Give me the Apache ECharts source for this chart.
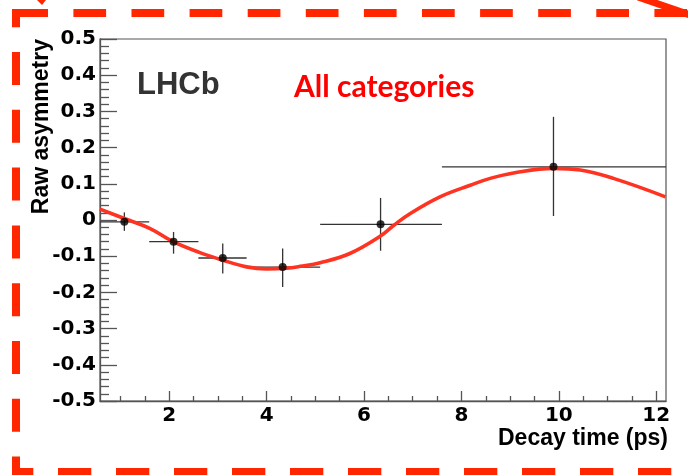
<!DOCTYPE html>
<html>
<head>
<meta charset="utf-8">
<script src="https://cdn.jsdelivr.net/npm/echarts@6/dist/echarts.min.js"></script>
<style>html,body{margin:0;padding:0;background:#fff;}#c{width:688px;height:475px;}</style>
</head>
<body>
<div id="c"></div>
<script>
// ---- data ----
const ptT   = [1.08, 2.09, 3.10, 4.33, 6.34, 9.89];
const ptA   = [-0.005, -0.060, -0.105, -0.130, -0.012, 0.147];
const binLo = [0.58, 1.59, 2.60, 3.59, 5.10, 7.60];
const binHi = [1.59, 2.60, 3.59, 5.10, 7.60, 12.2];
const errLo = [-0.030, -0.093, -0.148, -0.185, -0.085, 0.011];
const errHi = [0.021, -0.033, -0.065, -0.079, 0.061, 0.285];
const fitT  = [0.58, 1.08, 1.60, 2.08, 2.63, 3.10, 3.59, 4.00, 4.41, 4.69, 5.10, 5.71, 6.33, 6.60, 6.95, 7.56, 8.18, 8.59, 9.07, 9.89, 10.44, 11.12, 12.19];
const fitA  = [0.030, 0.004, -0.023, -0.060, -0.090, -0.111, -0.1295, -0.135, -0.133, -0.128, -0.118, -0.0925, -0.045, -0.016, 0.018, 0.064, 0.096, 0.115, 0.130, 0.1425, 0.138, 0.115, 0.064];
const xMajor = [2, 4, 6, 8, 10, 12];
const xMinor = [1, 1.5, 2.5, 3, 3.5, 4.5, 5, 5.5, 6.5, 7, 7.5, 8.5, 9, 9.5, 10.5, 11, 11.5];
const xTitle = 'Decay time (ps)';
const yTitle = 'Raw asymmetry';
const expLabel = 'LHCb';
const catLabel = 'All categories';

const chart = echarts.init(document.getElementById('c'), null, {renderer: 'canvas'});
const axisCol = '#555';
const tickFont = {fontFamily: 'DejaVu Sans', fontWeight: 'bold', fontSize: 20, color: '#000'};
const dashCol = '#ff2600';

const errData = ptT.map((t, i) => [t, ptA[i], binLo[i], binHi[i], errLo[i], errHi[i]]);

const option = {
  animation: false,
  backgroundColor: '#fff',
  grid: {left: 100, top: 39, right: 22, bottom: 74, show: true, borderColor: axisCol, borderWidth: 1.2, backgroundColor: 'transparent'},
  xAxis: [{
    type: 'value', min: 0.58, max: 12.2,
    axisLine: {show: true, onZero: false, lineStyle: {color: axisCol, width: 1.3}},
    axisTick: {show: true, inside: true, length: 10, customValues: xMajor, lineStyle: {color: axisCol, width: 1.3}},
    axisLabel: {show: true, customValues: xMajor, margin: 5, ...tickFont},
    splitLine: {show: false}
  }, {
    type: 'value', min: 0.58, max: 12.2, position: 'bottom',
    axisLine: {show: false, onZero: false},
    axisTick: {show: true, inside: true, length: 5, customValues: xMinor, lineStyle: {color: axisCol, width: 1.3}},
    axisLabel: {show: false},
    splitLine: {show: false}
  }],
  yAxis: {
    type: 'value', min: -0.5, max: 0.5, interval: 0.1,
    axisLine: {show: true, onZero: false, lineStyle: {color: axisCol, width: 1.3}},
    axisTick: {show: true, inside: true, length: 17, lineStyle: {color: axisCol, width: 1.3}},
    minorTick: {show: true, splitNumber: 5, length: 9, lineStyle: {color: axisCol, width: 1.3}},
    axisLabel: {margin: 4, ...tickFont, formatter: v => { const r = Math.round(v * 10) / 10; return r === 0 ? '0' : r.toFixed(1); }},
    splitLine: {show: false}
  },
  series: [{
    type: 'custom', xAxisIndex: 0, z: 2, clip: true,
    data: errData,
    renderItem: (params, api) => {
      const c = api.coord([api.value(0), api.value(1)]);
      const l = api.coord([api.value(2), api.value(1)]);
      const r = api.coord([api.value(3), api.value(1)]);
      const lo = api.coord([api.value(0), api.value(4)]);
      const hi = api.coord([api.value(0), api.value(5)]);
      const st = {stroke: '#333', lineWidth: 1.3};
      return {type: 'group', children: [
        {type: 'line', shape: {x1: l[0], y1: c[1], x2: r[0], y2: c[1]}, style: st},
        {type: 'line', shape: {x1: c[0], y1: lo[1], x2: c[0], y2: hi[1]}, style: st}
      ]};
    }
  }, {
    type: 'line', xAxisIndex: 0, z: 3, smooth: 0.4, symbol: 'none',
    data: fitT.map((t, i) => [t, fitA[i]]),
    lineStyle: {color: '#ff3322', width: 3.6}
  }, {
    type: 'scatter', xAxisIndex: 0, z: 4, symbol: 'circle', symbolSize: 8,
    data: ptT.map((t, i) => [t, ptA[i]]),
    itemStyle: {color: '#000'}
  }],
  graphic: [
    {type: 'text', x: 137, y: 85, z: 10, style: {text: expLabel, font: 'bold 31px "Liberation Sans"', fill: '#333', align: 'left', verticalAlign: 'middle'}},
    {type: 'text', x: 294, y: 87, z: 10, style: {text: catLabel, font: 'bold 30px Lato', fill: '#ff0000', align: 'left', verticalAlign: 'middle'}},
    {type: 'text', x: 668, y: 439, z: 10, style: {text: xTitle, font: 'bold 23px "Liberation Sans"', fill: '#000', align: 'right', verticalAlign: 'middle'}},
    {type: 'text', x: 42, y: 39, rotation: Math.PI / 2, z: 10, style: {text: yTitle, font: 'bold 23px "Liberation Sans"', fill: '#000', align: 'right', verticalAlign: 'middle'}},
    // dashed red frame
    {type: 'line', z: 20, shape: {x1: 15.3, y1: 13, x2: 700, y2: 13}, style: {stroke: dashCol, lineWidth: 8, lineDash: [32.7, 25.4]}},
    {type: 'line', z: 20, shape: {x1: 16, y1: 9, x2: 16, y2: 476}, style: {stroke: dashCol, lineWidth: 8, lineDash: [33, 24.8], lineDashOffset: 14.8}},
    {type: 'line', z: 20, shape: {x1: 12, y1: 472, x2: 700, y2: 472}, style: {stroke: dashCol, lineWidth: 8, lineDash: [33.3, 24.7], lineDashOffset: 12}},
    {type: 'line', z: 20, shape: {x1: 638, y1: -3, x2: 690, y2: 15}, style: {stroke: dashCol, lineWidth: 7}},
    {type: 'polygon', z: 20, shape: {points: [[37, 0], [46, 0], [42, 5]]}, style: {fill: dashCol}}
  ]
};
chart.setOption(option);
</script>
</body>
</html>
